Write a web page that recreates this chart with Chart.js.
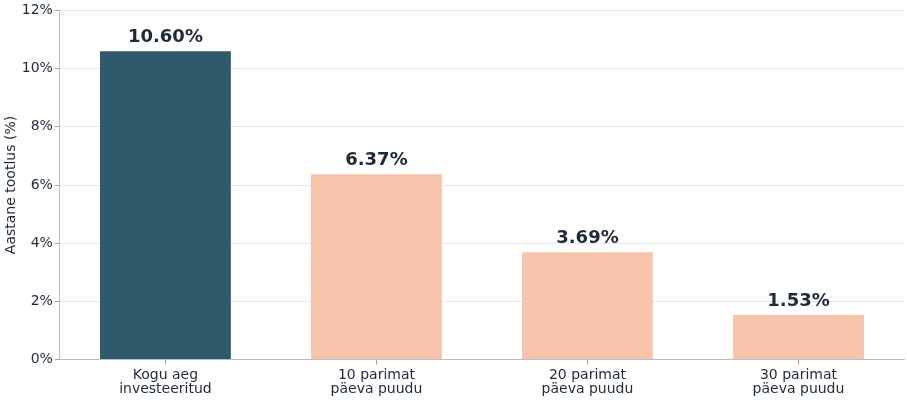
<!DOCTYPE html>
<html lang="et">
<head>
    <meta charset="UTF-8">
    <script src="https://cdn.jsdelivr.net/npm/chart.js"></script>
    <title>Aastane tootlus</title>
    <style>
        html, body { margin: 0; padding: 0; background: #fff; }
        #wrap { width: 907px; height: 400px; }
    </style>
</head>
<body>
<div id="wrap">
    <canvas id="returnsChart" width="907" height="400"></canvas>
</div>
<script>
    const categories = [['Kogu aeg', 'investeeritud'], ['10 parimat', 'päeva puudu'], ['20 parimat', 'päeva puudu'], ['30 parimat', 'päeva puudu']];
    const returns = [10.60, 6.37, 3.69, 1.53];
    const barColors = ['#30596b', '#f6c4ab', '#f6c4ab', '#f6c4ab'];
    const yTicks = [0, 2, 4, 6, 8, 10, 12];

    const textColor = '#1f2a37';

    // value labels above the bars
    const valueLabels = {
        id: 'valueLabels',
        afterDatasetsDraw(chart) {
            const ctx = chart.ctx;
            const meta = chart.getDatasetMeta(0);
            ctx.save();
            ctx.font = 'bold 18px "DejaVu Sans"';
            ctx.fillStyle = textColor;
            ctx.textAlign = 'center';
            ctx.textBaseline = 'bottom';
            meta.data.forEach((bar, i) => {
                ctx.fillText(returns[i].toFixed(2) + '%', bar.x, bar.y - 5);
            });
            ctx.restore();
        }
    };

    Chart.defaults.font.family = '"DejaVu Sans"';
    Chart.defaults.color = textColor;

    new Chart(document.getElementById('returnsChart'), {
        type: 'bar',
        data: {
            labels: categories,
            datasets: [{
                data: returns,
                backgroundColor: barColors,
                borderWidth: 0,
                categoryPercentage: 1,
                barPercentage: 0.62
            }]
        },
        options: {
            responsive: false,
            animation: false,
            layout: { padding: { top: 6, right: 3, left: 3, bottom: 0 } },
            plugins: {
                legend: { display: false },
                tooltip: { enabled: false }
            },
            scales: {
                x: {
                    grid: { drawOnChartArea: false, offset: false, tickColor: '#9aa1a9', tickLength: 5 },
                    border: { color: '#b8bec6' },
                    ticks: { font: { size: 14, lineHeight: 1.05 }, color: textColor, padding: 3 }
                },
                y: {
                    min: 0,
                    max: 12,
                    afterBuildTicks(axis) {
                        axis.ticks = yTicks.map(v => ({ value: v }));
                    },
                    grid: { color: '#e6e8eb', tickColor: '#9aa1a9', tickLength: 5 },
                    border: { color: '#b8bec6' },
                    ticks: {
                        font: { size: 14 },
                        color: textColor,
                        padding: 2,
                        callback: v => v + '%'
                    },
                    title: {
                        display: true,
                        text: 'Aastane tootlus (%)',
                        font: { size: 14 },
                        color: textColor,
                        padding: { top: 0, bottom: 0 }
                    }
                }
            }
        },
        plugins: [valueLabels]
    });
</script>
</body>
</html>
